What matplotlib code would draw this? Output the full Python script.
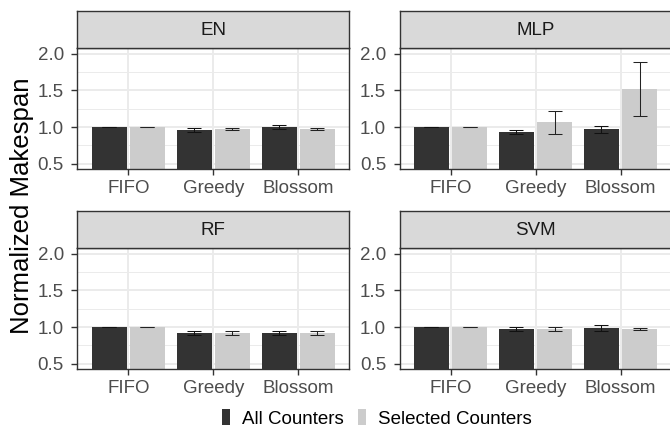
import matplotlib
matplotlib.use("Agg")
import matplotlib.pyplot as plt
from matplotlib.patches import Patch
from matplotlib.ticker import FixedLocator
import numpy as np

plt.rcParams['font.family'] = ['Liberation Sans', 'DejaVu Sans']

schedulers = ["FIFO", "Greedy", "Blossom"]
models = ["EN", "MLP", "RF", "SVM"]
series_names = ["All Counters", "Selected Counters"]

all_mean = {
    "EN":  [1.000, 0.960, 1.000],
    "MLP": [1.000, 0.933, 0.973],
    "RF":  [1.000, 0.920, 0.920],
    "SVM": [1.000, 0.975, 0.990],
}
all_err = {
    "EN":  [0.0, 0.030, 0.032],
    "MLP": [0.0, 0.030, 0.048],
    "RF":  [0.0, 0.025, 0.030],
    "SVM": [0.0, 0.027, 0.037],
}
sel_mean = {
    "EN":  [1.000, 0.975, 0.975],
    "MLP": [1.000, 1.068, 1.518],
    "RF":  [1.000, 0.920, 0.920],
    "SVM": [1.000, 0.975, 0.975],
}
sel_err = {
    "EN":  [0.0, 0.020, 0.020],
    "MLP": [0.0, 0.155, 0.370],
    "RF":  [0.0, 0.025, 0.030],
    "SVM": [0.0, 0.027, 0.020],
}
y_ticks = [0.5, 1.0, 1.5, 2.0]

colors = ["#333333", "#CCCCCC"]
W, H = 670, 428
fig = plt.figure(figsize=(W / 100, H / 100), dpi=100)

col_x = [77.3, 399.5]
panel_w = 272.0
row_top = [48.3, 248.3]
panel_h = 121.0
strip_h = 37.3

bar_w = 0.41
offset = 0.225
fs = 13.5

for i, m in enumerate(models):
    r, c = divmod(i, 2)
    x0 = col_x[c] / W
    y0 = 1 - (row_top[r] + panel_h) / H
    ax = fig.add_axes([x0, y0, panel_w / W, panel_h / H])
    x = np.arange(len(schedulers))
    ax.bar(x - offset, all_mean[m], width=bar_w, color=colors[0], zorder=2)
    ax.bar(x + offset, sel_mean[m], width=bar_w, color=colors[1], zorder=2)
    ax.errorbar(x - offset, all_mean[m], yerr=all_err[m], fmt='none',
                ecolor='#111111', elinewidth=0.75, capsize=4.8, capthick=0.75, zorder=3)
    ax.errorbar(x + offset, sel_mean[m], yerr=sel_err[m], fmt='none',
                ecolor='#222222', elinewidth=0.75, capsize=4.8, capthick=0.75, zorder=3)
    ax.set_xlim(-0.6, 2.6)
    ax.set_ylim(0.425, 2.075)
    ax.set_xticks(x)
    ax.set_xticklabels(schedulers)
    ax.yaxis.set_major_locator(FixedLocator(y_ticks))
    ax.set_yticklabels([f"{v:.1f}" for v in y_ticks])
    ax.yaxis.set_minor_locator(FixedLocator([0.75, 1.25, 1.75]))
    ax.grid(which='major', color='#EBEBEB', linewidth=1.4, zorder=0)
    ax.grid(which='minor', axis='y', color='#EBEBEB', linewidth=0.7, zorder=0)
    ax.set_axisbelow(True)
    ax.tick_params(axis='both', which='major', length=4.2, width=1.0, color='#333333',
                   labelcolor='#4D4D4D', labelsize=fs)
    ax.tick_params(axis='x', pad=3.5)
    ax.tick_params(axis='y', pad=5.5)
    ax.tick_params(which='minor', length=0)
    for s in ax.spines.values():
        s.set_color('#333333')
        s.set_linewidth(1.0)

    sax = fig.add_axes([x0, 1 - row_top[r] / H, panel_w / W, strip_h / H])
    sax.set_facecolor('#D9D9D9')
    sax.set_xticks([])
    sax.set_yticks([])
    for s in sax.spines.values():
        s.set_color('#333333')
        s.set_linewidth(1.0)
    sax.text(0.5, 0.47, m, ha='center', va='center', fontsize=fs, color='#1A1A1A',
             transform=sax.transAxes)

fig.text(22 / W, 1 - 206 / H, "Normalized Makespan", rotation=90, ha='center', va='center',
         fontsize=18.5, color='black')

handles = [Patch(facecolor=colors[0], edgecolor='none'), Patch(facecolor=colors[1], edgecolor='none')]
fig.legend(handles, series_names, loc='center', bbox_to_anchor=(377 / W, 1 - 418.5 / H),
           ncol=2, frameon=False, fontsize=fs, handlelength=0.43, handleheight=0.9,
           handletextpad=0.65, columnspacing=0.75, borderpad=0, borderaxespad=0)

fig.savefig("out.png", dpi=100)
